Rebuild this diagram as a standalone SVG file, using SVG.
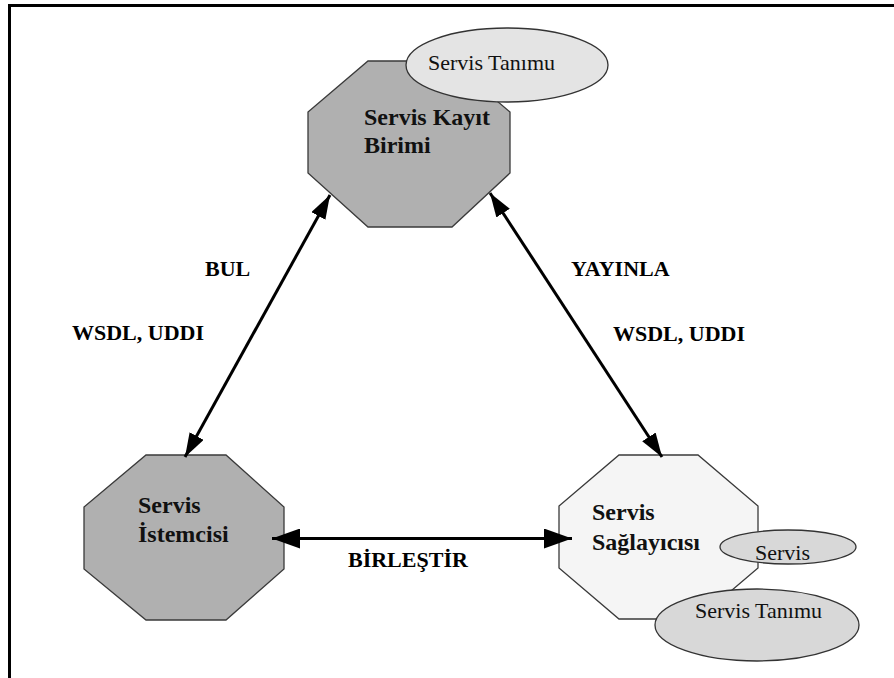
<svg xmlns="http://www.w3.org/2000/svg" width="894" height="678" viewBox="0 0 894 678">
  <defs>
    <style>
      .oct { stroke: #3a3a3a; stroke-width: 1.3; }
      .dark { fill: #b0b0b0; }
      .light { fill: #f5f5f5; }
      .ell { stroke: #333; stroke-width: 1.3; }
      .ell-top { fill: #e4e4e4; }
      .ell-low { fill: #d8d8d8; }
      text { font-family: 'Liberation Serif', 'DejaVu Serif', serif; }
      .node-t { font-weight: bold; font-size: 24px; fill: #111; }
      .ell-t { font-size: 22px; fill: #111; }
      .lbl { font-weight: bold; font-size: 22px; fill: #000; }
      .conn { stroke: #000; stroke-width: 3; fill: none; }
    </style>
    <marker id="head" viewBox="0 0 24 16" refX="24" refY="8" markerWidth="24" markerHeight="16" markerUnits="userSpaceOnUse" orient="auto-start-reverse">
      <path d="M0,0 L24,8 L0,16 z" fill="#000"/>
    </marker>
    <marker id="head-wide" viewBox="0 0 28 20" refX="28" refY="10" markerWidth="28" markerHeight="20" markerUnits="userSpaceOnUse" orient="auto-start-reverse">
      <path d="M0,0 L28,10 L0,20 z" fill="#000"/>
    </marker>
  </defs>

  <rect width="894" height="678" fill="#fff"/>

  <!-- frame: top and left edges -->
  <path d="M894,5.5 H9.5 V678" fill="none" stroke="#000" stroke-width="3"/>

  <!-- registry -->
  <g id="servis-kayit-birimi">
    <polygon class="oct dark" points="368,61 450,61 510,112 510,173 452,227 368,227 308,173 308,112"/>
    <ellipse class="ell ell-top" cx="507" cy="65" rx="101" ry="37"/>
    <text class="ell-t" x="428" y="70">Servis Tanımu</text>
    <text class="node-t" x="364" y="125">Servis Kayıt</text>
    <text class="node-t" x="364" y="153">Birimi</text>
  </g>

  <!-- requester -->
  <g id="servis-istemcisi">
    <polygon class="oct dark" points="146,455 226,455 284,507 284,569 226,620 146,620 84,569 84,507"/>
    <text class="node-t" x="138" y="513">Servis</text>
    <text class="node-t" x="138" y="542">İstemcisi</text>
  </g>

  <!-- provider -->
  <g id="servis-saglayicisi">
    <polygon class="oct light" points="619,455 698,455 758,506 758,568 698,619 619,619 559,568 559,506"/>
    <text class="node-t" x="592" y="520">Servis</text>
    <text class="node-t" x="592" y="550">Sağlayıcısı</text>
    <ellipse class="ell ell-low" cx="788" cy="547" rx="68" ry="17"/>
    <text class="ell-t" x="755" y="560">Servis</text>
    <ellipse class="ell ell-low" cx="757" cy="625" rx="102" ry="36"/>
    <text class="ell-t" x="695" y="618">Servis Tanımu</text>
  </g>

  <!-- connectors -->
  <g id="connectors">
    <line class="conn" x1="185" y1="457" x2="330" y2="195" marker-start="url(#head)" marker-end="url(#head)"/>
    <line class="conn" x1="490" y1="193" x2="662" y2="457" marker-start="url(#head)" marker-end="url(#head)"/>
    <line class="conn" x1="272" y1="538.5" x2="572" y2="538.5" marker-start="url(#head-wide)" marker-end="url(#head-wide)"/>
  </g>

  <!-- connector labels -->
  <g id="labels">
    <text class="lbl" x="205" y="276">BUL</text>
    <text class="lbl" x="72" y="340">WSDL, UDDI</text>
    <text class="lbl" x="571" y="276">YAYINLA</text>
    <text class="lbl" x="613" y="341">WSDL, UDDI</text>
    <text class="lbl" x="348" y="567">BİRLEŞTİR</text>
  </g>
</svg>
